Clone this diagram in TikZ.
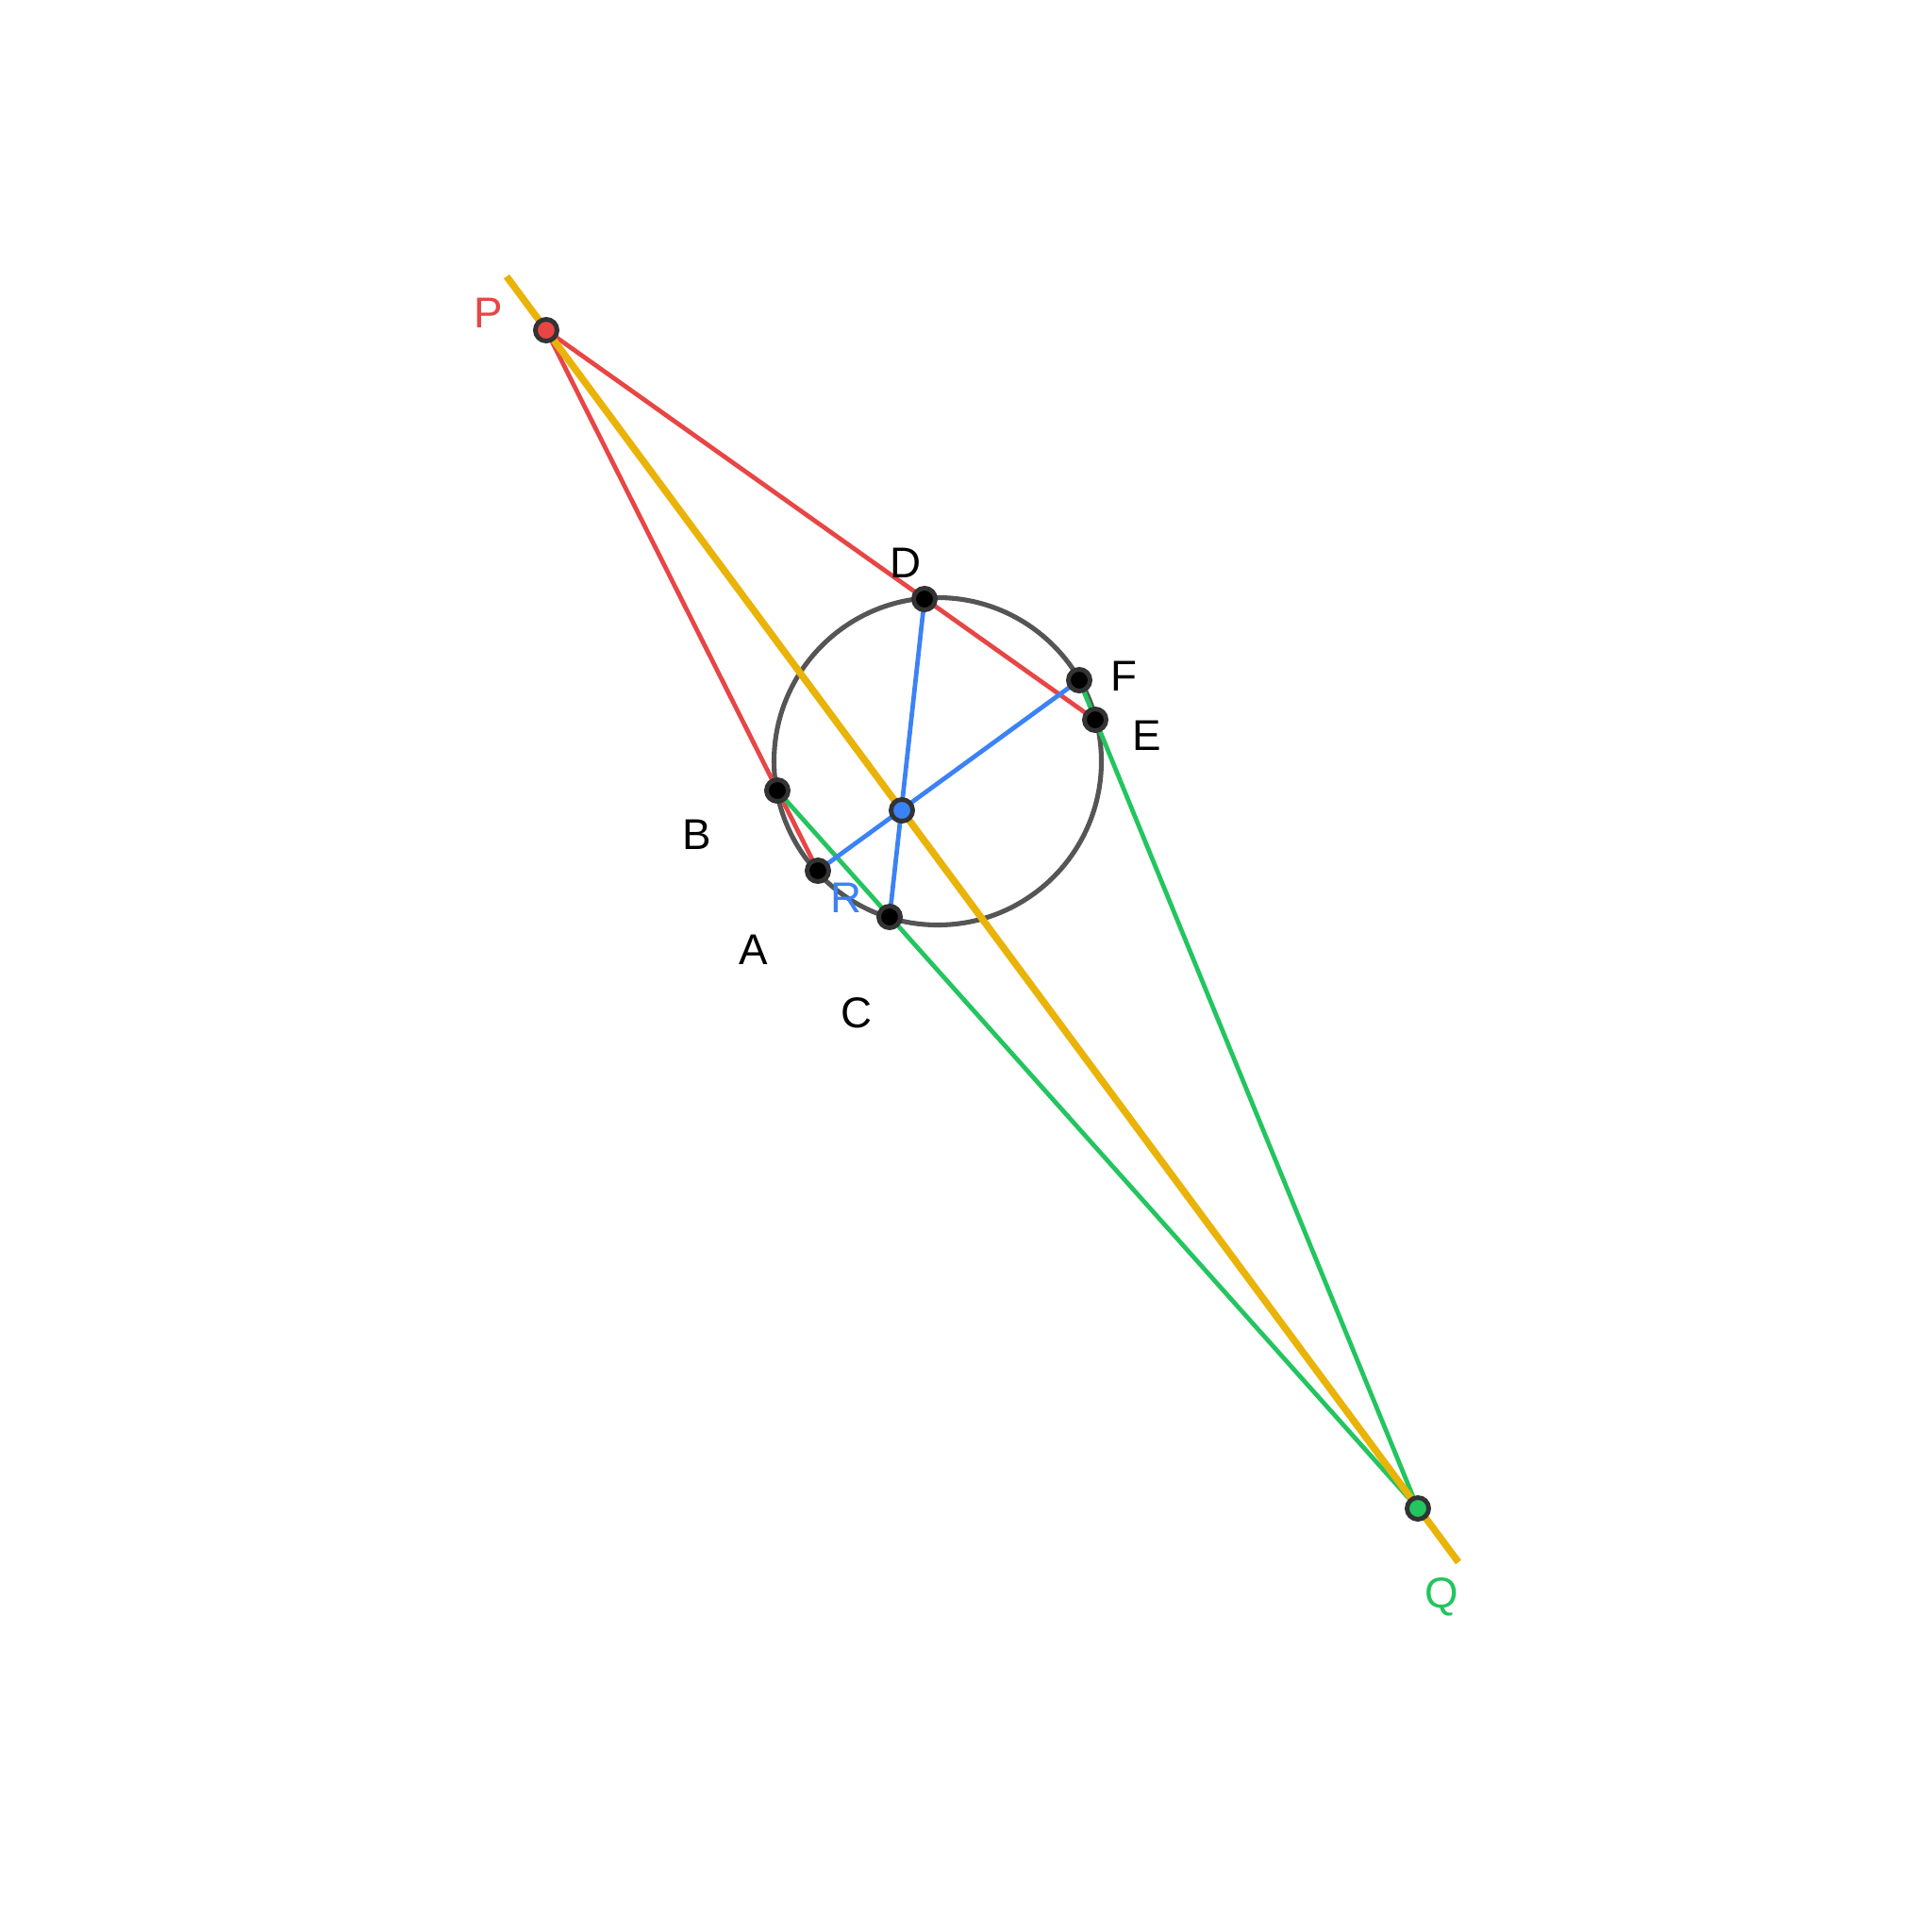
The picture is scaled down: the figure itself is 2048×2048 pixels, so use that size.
\documentclass[tikz,border=0pt]{standalone}
\usepackage{fontspec}
\setmainfont{Liberation Sans}
\usetikzlibrary{positioning}
\definecolor{pred}{HTML}{E84545}
\definecolor{pgreen}{HTML}{22C55E}
\definecolor{pblue}{HTML}{3B82F6}
\definecolor{pyellow}{HTML}{EAB308}
\definecolor{cgray}{HTML}{555555}
\definecolor{ptrim}{HTML}{333333}
\pgfdeclarelayer{background}
\pgfsetlayers{background,main}

\begin{document}
\begin{tikzpicture}[x=0.01cm,y=-0.01cm,
  pt/.style={circle,draw=ptrim,line width=1.4pt,fill=black,minimum size=0.23cm,inner sep=0pt},
  lbl/.style={font=\fontsize{13}{15}\selectfont,inner sep=0pt},
  seg/.style={line width=1.35pt,line cap=round}]
  \useasboundingbox (0,0) rectangle (2048,2048);
  %points
  \node[pt,fill=pred] (P) at (579,350) {};
  \node[pt,fill=pgreen] (Q) at (1503,1599) {};
  \node[pt,fill=pblue] (R) at (956,859) {};
  \node[pt] (A) at (867,923) {};
  \node[pt] (B) at (824,838) {};
  \node[pt] (C) at (943,972) {};
  \node[pt] (D) at (980,635) {};
  \node[pt] (E) at (1161,763) {};
  \node[pt] (F) at (1144,721) {};
  \coordinate (y1) at (537,293);
  \coordinate (y2) at (1546,1656);
  %circle and lines
  \begin{pgfonlayer}{background}
    \draw[cgray,line width=1.45pt] (994,807) circle[radius=173.5];
    \draw[seg,pred] (P.center) -- (A.center);
    \draw[seg,pred] (P.center) -- (E.center);
    \draw[seg,pgreen] (Q.center) -- (B.center);
    \draw[seg,pgreen] (Q.center) -- (F.center);
    \draw[seg,pblue] (D.center) -- (C.center);
    \draw[seg,pblue] (F.center) -- (A.center);
    \draw[pyellow,line width=2.1pt] (y1) -- (y2);
  \end{pgfonlayer}
  %labels
  \node[lbl,text=pred] (lP) at (518,332) {P};
  \node[lbl,text=pgreen] (lQ) at (1528,1693) {Q};
  \node[lbl,text=pblue] (lR) at (897,952) {R};
  \node[lbl] (lA) at (799,1007) {A};
  \node[lbl] (lB) at (739,885) {B};
  \node[lbl] (lC) at (908,1074) {C};
  \node[lbl] (lD) at (960,597) {D};
  \node[lbl] (lE) at (1216,780) {E};
  \node[lbl] (lF) at (1191,717) {F};
\end{tikzpicture}
\end{document}
